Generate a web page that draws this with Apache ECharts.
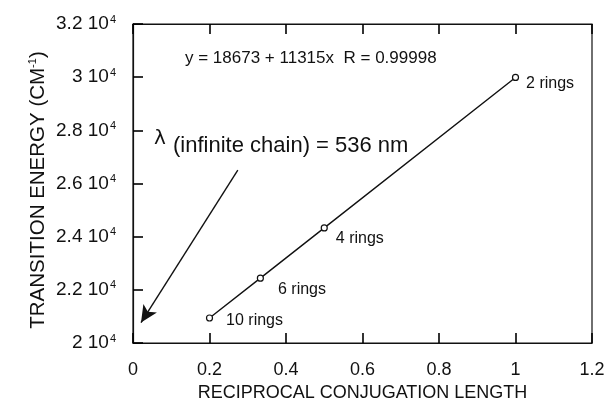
<!DOCTYPE html>
<html><head><meta charset="utf-8">
<script src="https://cdn.jsdelivr.net/npm/echarts@6/dist/echarts.min.js"></script>
<style>html,body{margin:0;padding:0;background:#fff}#c{width:607px;height:402px}</style>
</head><body><div id="c"></div>
<script>
const xValues = [0.2, 0.333, 0.5, 1.0];
const yValues = [20940, 22440, 24330, 29990];
const pointLabels = ['10 rings', '6 rings', '4 rings', '2 rings'];
const yTickLabels = ['2', '2.2', '2.4', '2.6', '2.8', '3', '3.2'];
const xTickLabels = ['0', '0.2', '0.4', '0.6', '0.8', '1', '1.2'];
const arrowStart = [0.274, 26500];
const arrowEnd = [0.021, 20770];
const fitText = 'y = 18673 + 11315x  R = 0.99998';
const noteText = '(infinite chain) = 536 nm';

const FONT = '"Liberation Sans", Arial, sans-serif';
const labelOffsets = [[8, 3], [9, 11], [3, 11], [2, 6]];
const data = xValues.map((x, i) => ({
  value: [x, yValues[i]],
  label: { show: true, formatter: pointLabels[i], position: 'right',
    offset: labelOffsets[i], fontFamily: FONT, fontSize: 16, color: '#111' }
}));

const chart = echarts.init(document.getElementById('c'), null, { renderer: 'canvas' });
const axisLine = () => ({ show: true, lineStyle: { color: '#111', width: 1.2 } });
const tick = () => ({ show: true, inside: true, length: 10, lineStyle: { color: '#000', width: 1.6 } });
chart.setOption({
  animation: false,
  backgroundColor: '#fff',
  grid: { left: 133, right: 15, top: 24, bottom: 59, outerBoundsMode: 'none', containLabel: false,
    show: true, borderColor: '#111', borderWidth: 1.2, backgroundColor: 'transparent' },
  xAxis: [{
    type: 'value', min: 0, max: 1.2, interval: 0.2,
    axisLine: axisLine(), splitLine: { show: false }, axisTick: tick(),
    axisLabel: { margin: 18, fontFamily: FONT, fontSize: 18, color: '#111',
      formatter: (v) => xTickLabels[Math.round(v / 0.2)] },
    name: 'RECIPROCAL CONJUGATION LENGTH', nameLocation: 'middle', nameGap: 41,
    nameTextStyle: { fontFamily: FONT, fontSize: 18, color: '#111' }
  }, {
    type: 'value', position: 'top', min: 0, max: 1.2, interval: 0.2,
    axisLine: axisLine(), splitLine: { show: false }, axisTick: tick(),
    axisLabel: { show: false }
  }],
  yAxis: [{
    type: 'value', min: 20000, max: 32000, interval: 2000,
    axisLine: axisLine(), splitLine: { show: false }, axisTick: tick(),
    axisLabel: { margin: 17, color: '#111',
      formatter: (v) => '{a|' + yTickLabels[Math.round((v - 20000) / 2000)] + ' 10}{s|4}',
      rich: { a: { fontFamily: FONT, fontSize: 19, color: '#111' },
              s: { fontFamily: FONT, fontSize: 11, color: '#111', verticalAlign: 'top', padding: [0, 0, 9, 1] } } }
  }],
  series: [{
    type: 'line', data: data, symbol: 'circle', symbolSize: 6,
    itemStyle: { color: '#fff', borderColor: '#111', borderWidth: 1.2 },
    lineStyle: { color: '#111', width: 1.4 },
    markLine: {
      silent: true, symbol: ['none', 'arrow'], symbolSize: [12, 17],
      label: { show: false },
      lineStyle: { color: '#111', width: 1.4, type: 'solid' },
      data: [[{ coord: arrowStart }, { coord: arrowEnd }]]
    }
  }],
  graphic: [
    { type: 'text', x: 38, y: 190, rotation: Math.PI / 2,
      style: { text: '{a|TRANSITION ENERGY (CM}{s|-1}{a|)}', align: 'center', verticalAlign: 'middle',
        rich: { a: { fontFamily: FONT, fontSize: 20.5, fill: '#111' },
                s: { fontFamily: FONT, fontSize: 11, fill: '#111', verticalAlign: 'top', padding: [0, 0, 10, 0] } } } },
    { type: 'text', left: 185, top: 50, style: { text: fitText, font: '17px ' + FONT, fill: '#111' } },
    { type: 'text', left: 154, top: 129, style: { text: 'λ', font: '20px "DejaVu Sans", sans-serif', fill: '#111' } },
    { type: 'text', left: 173, top: 135, style: { text: noteText, font: '22px ' + FONT, fill: '#111' } }
  ]
});
</script></body></html>
